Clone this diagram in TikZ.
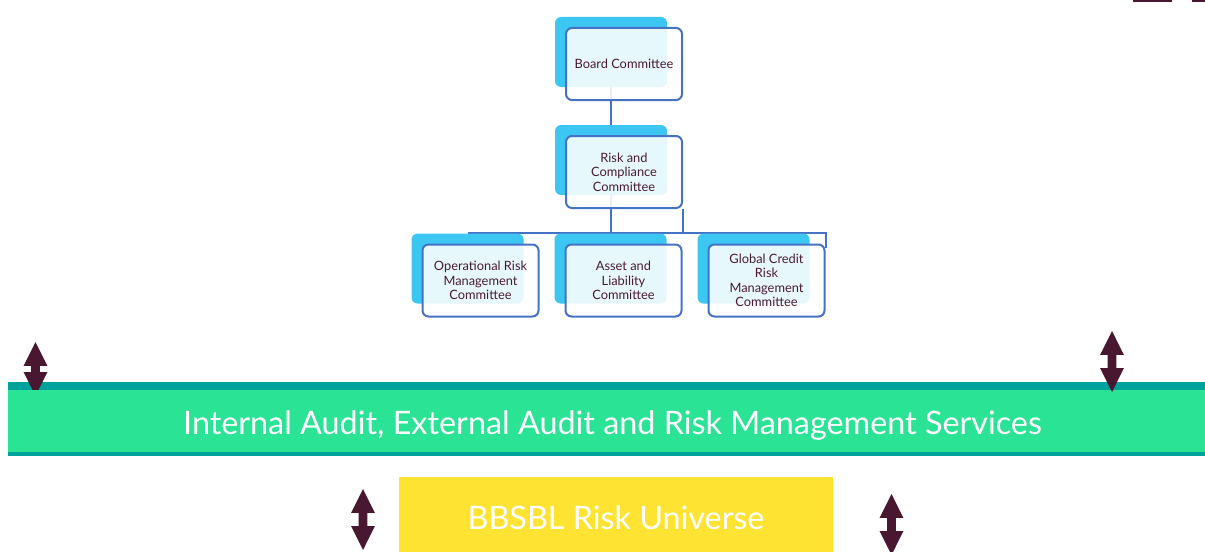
\documentclass[tikz,border=0pt]{standalone}
\usepackage{fontspec}
\setmainfont{Lato}
\usetikzlibrary{shapes.arrows,backgrounds}

\definecolor{cyanback}{HTML}{3CC6F2}
\definecolor{boxline}{HTML}{4472C4}
\definecolor{plum}{HTML}{4A1731}
\definecolor{bandgreen}{HTML}{2BE394}
\definecolor{bandteal}{HTML}{00A39B}
\definecolor{gold}{HTML}{FFE333}
\definecolor{boxtext}{HTML}{4A1A35}

\tikzset{
  backbox/.style={fill=cyanback, rounded corners=1.2mm, minimum width=22.4mm, minimum height=14mm, inner sep=0pt},
  frontbox/.style={draw=boxline, line width=0.4mm, fill=white, fill opacity=0.88, text opacity=1,
    rounded corners=1.2mm, minimum width=23.2mm, minimum height=14.4mm, inner sep=0pt,
    align=center, text=boxtext, font=\fontsize{7.3}{8.2}\selectfont},
  link/.style={draw=boxline, line width=0.4mm},
  updown/.style={double arrow, rotate=90, fill=plum, inner xsep=0pt, inner ysep=0.8mm,
    double arrow head extend=1.5mm, double arrow tip angle=53},
}

\begin{document}
\begin{tikzpicture}[x=0.2mm, y=-0.2mm]

\useasboundingbox (0,0) rectangle (1205,552);


\foreach \name/\x/\y/\txt in {board/624/64/{Board Committee},
                               risk/624/172/{Risk and\\Compliance\\Committee},
                               ops/480.5/280.5/{Operational Risk\\Management\\Committee},
                               alco/623.5/280.5/{Asset and\\Liability\\Committee},
                               gcr/766.5/280.5/{Global Credit\\Risk\\Management\\Committee}}
{
\node[backbox] (\name-back) at (\x-13,\y-12) {};
\node[frontbox] (\name) at (\x,\y) {\txt};
}

\begin{pgfonlayer}{background}
\draw[link] (board-back.south) -- (risk-back.north);
\draw[link] (risk-back.south) -- (risk-back.south |- ops-back.north);
\draw[link] (risk.south east) -- (risk.south east |- ops-back.north);
\draw[link] (ops-back.north) -| ([yshift=-0.8mm]gcr.north east);
\end{pgfonlayer}


\fill[bandteal] (8,382) rectangle (1205,456);
\node[updown, minimum height=10.8mm] (ua) at (35.5,369) {};
\node[fill=bandgreen, minimum width=239.4mm, minimum height=12.4mm, inner sep=0pt,
      text height=15.4pt, text depth=0pt,
      text=white, font=\fontsize{18.4}{20}\selectfont] (audit) at (606.5,421)
      {\hspace*{2.4mm}Internal Audit, External Audit and Risk Management Services};

\node[fill=gold, minimum width=86.8mm, minimum height=15mm, inner sep=0pt,
      text height=16.8pt, text depth=0pt,
      text=white, font=\fontsize{18.4}{20}\selectfont] (universe) at (616,514.5)
      {BBSBL Risk Universe};

\node[updown, minimum height=12.2mm] (ub) at (1112,361.5) {};
\node[updown, minimum height=12.2mm] (uc) at (363,519.5) {};
\node[updown, minimum height=12.2mm] (ud) at (891.5,524.5) {};

\fill[plum] (1133,0) rectangle (1172,2);
\fill[plum] (1192,0) rectangle (1205,2);

\end{tikzpicture}
\end{document}
